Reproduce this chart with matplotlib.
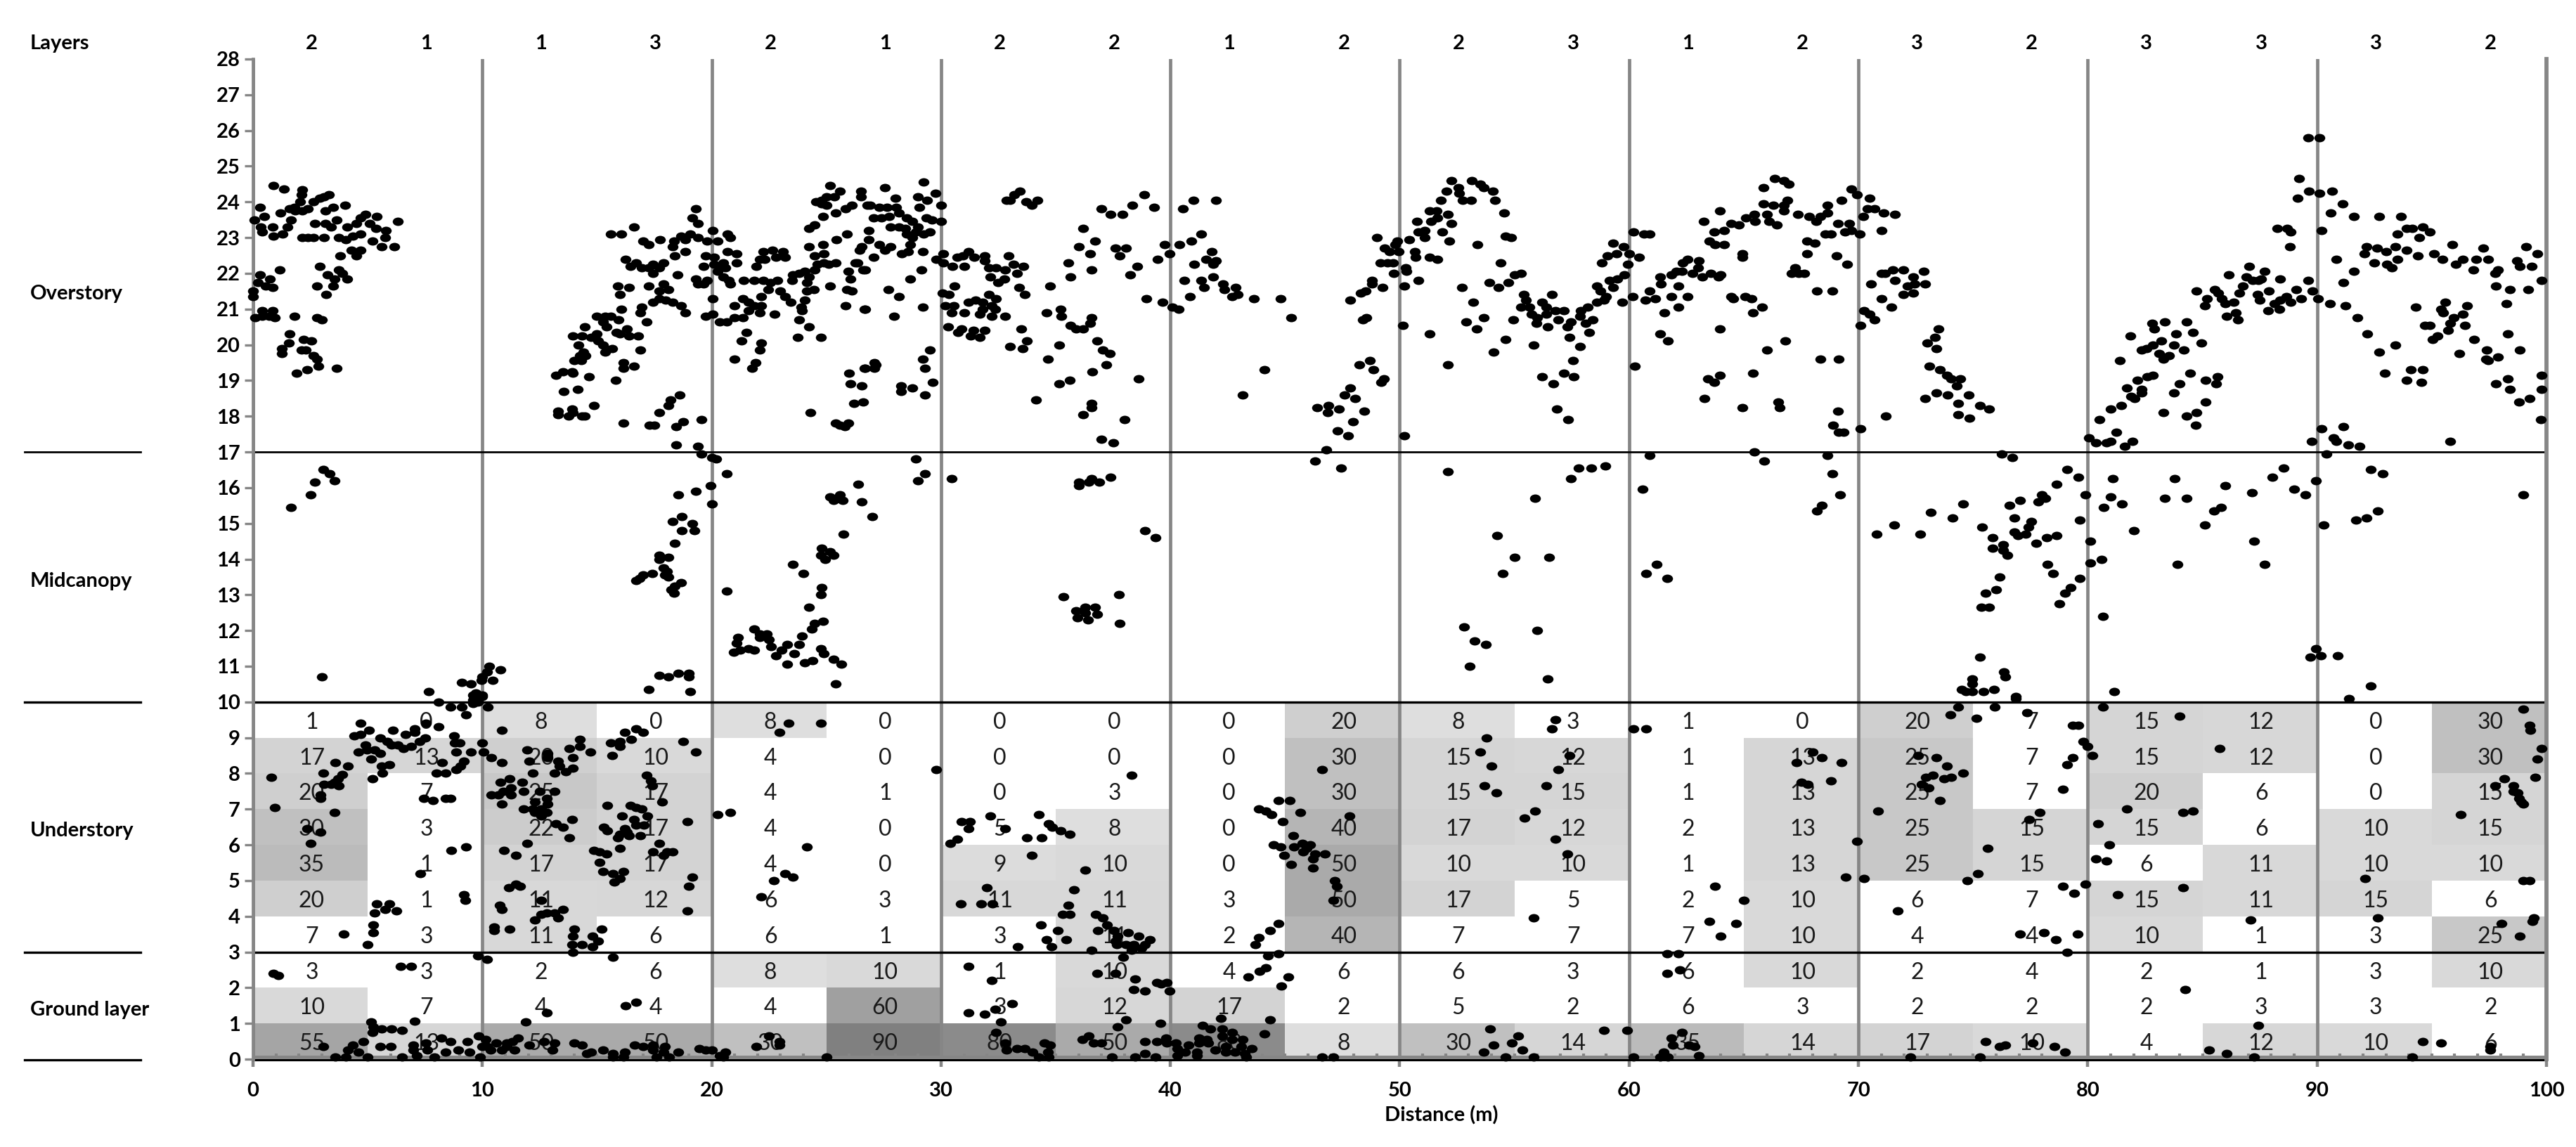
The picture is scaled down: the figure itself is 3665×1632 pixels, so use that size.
import matplotlib
matplotlib.use('Agg')
import matplotlib.pyplot as plt
from matplotlib.lines import Line2D
from matplotlib.path import Path
from matplotlib.transforms import Affine2D
import numpy as np

plt.rcParams['font.family'] = ['Lato', 'DejaVu Sans']

layers = [2, 1, 1, 3, 2, 1, 2, 2, 1, 2, 2, 3, 1, 2, 3, 2, 3, 3, 3, 2]

# percent cover per 5 m column, top row is the 9-10 m band
cover = [
    [1, 0, 8, 0, 8, 0, 0, 0, 0, 20, 8, 3, 1, 0, 20, 7, 15, 12, 0, 30],
    [17, 13, 20, 10, 4, 0, 0, 0, 0, 30, 15, 12, 1, 13, 25, 7, 15, 12, 0, 30],
    [20, 7, 25, 17, 4, 1, 0, 3, 0, 30, 15, 15, 1, 13, 25, 7, 20, 6, 0, 15],
    [30, 3, 22, 17, 4, 0, 5, 8, 0, 40, 17, 12, 2, 13, 25, 15, 15, 6, 10, 15],
    [35, 1, 17, 17, 4, 0, 9, 10, 0, 50, 10, 10, 1, 13, 25, 15, 6, 11, 10, 10],
    [20, 1, 11, 12, 6, 3, 11, 11, 3, 50, 17, 5, 2, 10, 6, 7, 15, 11, 15, 6],
    [7, 3, 11, 6, 6, 1, 3, 11, 2, 40, 7, 7, 7, 10, 4, 4, 10, 1, 3, 25],
    [3, 3, 2, 6, 8, 10, 1, 10, 4, 6, 6, 3, 6, 10, 2, 4, 2, 1, 3, 10],
    [10, 7, 4, 4, 4, 60, 3, 12, 17, 2, 5, 2, 6, 3, 2, 2, 2, 3, 3, 2],
    [55, 13, 50, 50, 30, 90, 80, 50, 80, 8, 30, 14, 35, 14, 17, 10, 4, 12, 10, 6],
]

stratum_names = ['Overstory', 'Midcanopy', 'Understory', 'Ground layer']

# canopy hits as (distance m, height m), one list per 10 m
hits_00 = [(.9,24.46),(1.35,24.35),(2.15,24.34),(2.1,24.2),(3.3,24.2),(3.1,24.15),(2.9,24.1),(.3,23.85),(4,23.9),(3.5,23.85),
    (2.65,24),(2.05,24),(1.8,23.85),(1.6,23.8),(2.4,23.8),(1.85,23.75),(2.15,23.75),(1.2,23.7),(.5,23.6),(3.15,23.75),(5.4,23.6),
    (4.9,23.65),(4.7,23.55),(3.65,23.5),(.05,23.5),(6.3,23.45),(2.7,23.4),(3.15,23.4),(3.4,23.3),(1.65,23.5),(1.5,23.3),(.35,23.3),
    (.85,23.3),(5.1,23.4),(4.5,23.4),(4.1,23.3),(5.35,23.25),(5.8,23.2),(.4,23.15),(1.3,23.1),(.9,23.05),(2.15,23),(2.4,23),(2.65,23),
    (3.1,23),(3.75,23),(4.05,22.95),(4.35,23.05),(4.7,23.1),(5.2,22.9),(5.75,23),(5.6,22.75),(6.15,22.75),(4.7,22.65),(4.3,22.65),
    (4.5,22.5),(3.8,22.5),(2.9,22.2),(1.15,22.1),(3.75,22.1),(3.25,21.95),(3.9,22),(4.1,21.85),(.3,21.95),(.75,21.85),(3.55,21.85),
    (.2,21.75),(.55,21.65),(.85,21.6),(2.8,21.65),(3.5,21.65),(0,21.5),(0,21.35),(3.2,21.4),(.4,20.95),(.85,20.95),(.1,20.75),(.4,20.8),
    (.7,20.8),(.95,20.75),(1.8,20.8),(2.8,20.75),(3,20.7),(1.6,20.3),(2.2,20.15),(2.55,20.1),(1.55,20.05),(1.25,19.9),(1.25,19.75),
    (2.1,19.85),(2.3,19.85),(2.65,19.7),(2.8,19.6),(3.65,19.35),(2.85,19.4),(2.35,19.3),(1.9,19.2),
    (1.65,15.45),(2.5,15.8),(2.7,16.15),(3.55,16.2),(3.35,16.4),(3.05,16.5),(3,10.7),
    (.8,7.9),(.95,7.05),(3.6,8.3),(4.15,8.2),(3.05,8),(3.9,7.97),(3.7,7.85),(3.55,7.75),(3.1,7.7),(3.4,7.7),(3.75,7.65),(2.95,7.4),
    (2.95,7.3),(3.55,6.9),(2.35,6.45),(2.95,6.35),(2.5,6.05),(4.7,9.4),(4.4,9.05),(4.7,9.1),(5.05,9.2),(5.55,9),(6.1,9.2),(5.85,8.9),
    (6.05,8.8),(6.65,9.1),(7.05,9.15),(7.05,9.25),(7.55,9.4),(8.1,9.3),(7.5,9),(7.25,8.9),(6.55,8.7),(6.9,8.75),(6.3,8.8),(4.6,8.6),
    (4.9,8.8),(4.95,8.65),(5.3,8.65),(5.55,8.55),(5.15,8.4),(5.95,8.25),(5.6,8.2),(5.65,8),(5.2,7.85),(8.25,8.3),(8,8),(8.4,8),
    (7.45,7.3),(7.85,7.25),(8.4,7.3),(8.6,7.3),(8.75,9.05),(8.8,8.85),(9,8.85),(8.85,8.6),(9.5,8.6),(9.2,8.35),(9.05,8.2),(8.85,8.1),
    (8.65,5.85),(9.3,5.95),(7.3,5.2),(9.2,4.6),(9.25,4.45),(5.4,4.35),(5.95,4.35),(5.75,4.2),(6.25,4.15),(5.3,4.1),(5.25,3.75),(5.25,3.55),
    (3.95,3.5),(5,3.2),(.9,2.4),(1.1,2.35),(6.45,2.6),(6.9,2.6),(9.8,2.9),(7.05,1.07),(5.15,1.05),(5.25,.9),(5.2,.75),(5.6,.85),(6.05,.85),
    (6.5,.8),(4.8,.5),(4.35,.4),(4.15,.25),(3.05,.35),(4.6,.2),(3.6,.05),(4.05,.05),(5,.05),(5.55,.35),(6,.35),(6.5,.05),(7,.4),(7,.25),
    (7.15,.1),(7.55,.45),(7.6,.25),(7.9,.05),(8.2,.6),(8.6,.5),(8.4,.2),(8.95,.25),(9.35,.5),(9.45,.2),(9.9,.05),(9.85,.65),
    (7.65,10.3),(8.1,10),(8.6,9.85),(9.1,9.85),(9.6,9.95),(9.3,9.65),(9.6,10.2),(9.6,10.05),(10,10.15),(9.1,10.55),(9.5,10.5),(9.7,10.25),
    (9.95,10.6),(9.8,10)]

hits_10 = [(10,10.7),(10.3,11),(10.8,10.9),(10.45,10.6),(10,10.2),(10.2,10.85),(10.25,9.85),
    (15.6,23.1),(16.05,23.1),(16.6,23.3),(19.3,23.8),(19.15,23.55),(19.4,23.4),(17,22.9),(17.25,22.8),(17.75,22.95),(18.35,22.9),(18.65,23.05),
    (19.05,23.1),(18.3,22.75),(18.85,22.95),(19.4,23),(19.8,22.9),(20.05,23.2),(18.4,22.5),(18.85,22.6),(16.25,22.4),(16.45,22.2),(16.7,22.3),
    (16.95,22.15),(17.45,22.25),(17.9,22.3),(17.25,22.15),(17.7,22.15),(17.45,22),(18.5,21.95),(19.65,22.2),(19.75,22.5),(19.3,21.85),(19.8,21.8),
    (19.4,21.7),(19.65,21.7),(15.9,21.65),(16.4,21.6),(16,21.4),(17.25,21.65),(17.9,21.7),(18.1,21.55),(17.7,21.5),(17.7,21.3),(18,21.25),(17.45,21.2),
    (16.95,21.05),(16.9,20.9),(16.05,21),(18.3,21.2),(18.65,21.1),(18.85,20.9),(20.05,21.3),(19.75,20.8),(20.05,20.85),(15,20.8),(15.35,20.8),(15.6,20.8),
    (15.95,20.7),(15.25,20.65),(15.4,20.5),(14.45,20.5),(17.15,20.65),(16.3,20.45),(15.85,20.35),(16,20.3),(16.4,20.25),(15,20.3),(13.95,20.25),(14.35,20.25),
    (16.8,20.25),(14.75,20.2),(15.05,20.1),(14.2,20),(15.25,20),(15.65,19.9),(15.35,19.8),(16.9,19.85),(14.4,19.8),(14.25,19.7),(14.5,19.7),(14,19.55),
    (14.3,19.55),(16.15,19.5),(16.15,19.35),(16.6,19.4),(13.2,19.15),(13.5,19.25),(13.9,19.25),(13.95,19.2),(14.65,19.1),(15.8,19),(13.55,18.7),(14.15,18.75),
    (14.85,18.3),(13.3,18.15),(13.3,18.05),(13.75,18),(13.9,18.2),(13.95,18.1),(14.35,18),(14.45,18),(16.15,17.8),(17.3,17.75),(17.5,17.75),(17.7,18.1),
    (18.1,18.3),(18.2,18.45),(18.6,18.6),(18.45,17.7),(18.75,17.85),(19.55,17.9),(18.45,17.2),(19.4,17.15),(19.55,16.95),(20,16.85),(20.2,16.8),(20.65,16.4),
    (19.95,16.05),(20,15.55),(18.55,15.8),(19.3,15.9),(18.7,15.2),(18.3,15.05),(19.15,15),(19.25,14.8),(18.7,14.8),(18.4,14.45),(17.7,14.1),(17.7,14),(18.1,14.05),
    (17.9,13.75),(18.05,13.65),(17.95,13.55),(18.1,13.5),(17.4,13.6),(17,13.55),(16.85,13.45),(16.7,13.4),(18.65,13.35),(18.4,13.25),(18.25,13.15),(18.35,13.05),
    (17.7,10.75),(18.1,10.7),(18.55,10.8),(19,10.8),(19,10.7),(17.25,10.35),(19.05,10.3),
    (10.85,9.2),(10,8.85),(10.05,8.6),(10.4,8.45),(10.85,8.3),(11.95,8.65),(12.05,8.35),(12.85,8.55),(12.85,8.45),(12.2,8),(11.2,7.85),(10.8,7.75),(11.75,7.75),
    (11.25,7.6),(10.9,7.5),(11.8,7.5),(10.4,7.4),(10.7,7.4),(11.25,7.4),(12.5,7.5),(13.15,7.5),(12.8,7.3),(10.85,7.15),(12.3,7.2),(12.85,7.15),(11.8,7),(12.2,7),
    (12.55,7),(12.3,6.9),(12.55,6.8),(12.8,6.9),(13.9,6.7),(13.2,6.6),(13.5,6.5),(13.8,6.2),(11.95,6.05),(10.95,5.85),(11.45,5.7),(14.25,8.95),(14.25,8.75),(14.7,8.6),
    (13.8,8.7),(13.95,8.45),(13.3,8.35),(13.35,8.2),(13.65,8.05),(13.95,8.15),(13.15,8),(15.65,8.5),(15.6,8.85),(16,8.9),(16,8.75),(16.2,9.15),(16.5,8.95),(16.7,9.25),
    (17,9.15),(18.75,8.9),(19.3,8.6),(17.15,7.95),(17.35,7.8),(17.4,7.65),(17.85,7.2),(15.45,7.1),(16.45,7.1),(16.7,7.05),(16.95,7),(17.2,6.8),(16.1,6.8),(16.6,6.7),
    (16.7,6.55),(17.05,6.55),(15.3,6.5),(15.45,6.4),(16.2,6.45),(16.3,6.35),(15.9,6.2),(16,6.3),(16.4,6.25),(16.9,6.25),(18.95,6.65),(17.7,6.05),(14.85,5.85),(15.1,5.8),
    (15.4,5.75),(16,5.9),(17.45,5.8),(18.05,5.8),(18.3,5.8),(17.9,5.7),(15.1,5.5),(15.25,5.25),(15.7,5.2),(16.15,5.25),(16,5.05),(15.75,4.95),(19.15,5.1),(19,4.85),
    (18.95,4.15),(11.45,4.9),(11.15,4.8),(11.65,4.85),(12.55,4.45),(10.75,4.3),(10.85,4.2),(13.5,4.2),(12.8,4.1),(12.55,4.05),(13.15,4.1),(12.3,3.9),(13.3,3.95),(10.5,3.7),
    (11.2,3.65),(10.5,3.6),(14,3.65),(13.95,3.45),(14.8,3.45),(15.2,3.65),(15.05,3.3),(13.9,3.2),(14.35,3.2),(14.8,3.15),(13.95,3),(10.2,2.8),(15.7,2.85),(16.7,1.6),
    (16.25,1.5),(12.8,1.3),(11.9,1.05),(11.55,.6),(11.3,.5),(11.05,.45),(10.15,.55),(10.6,.45),(10.2,.35),(10.85,.25),(10,.35),(10.35,.25),(11.05,.35),(11.4,.25),(12.05,.4),
    (12.7,.5),(13.15,.45),(13.05,.25),(14,.45),(14.35,.4),(14.55,.15),(14.75,.2),(15.25,.25),(15.7,.05),(15.7,.15),(16.2,.2),(16.15,.05),(16.65,.4),(17,.35),(17.45,.4),
    (17.45,.25),(17.6,.05),(17.95,.35),(17.9,.2),(18.15,.05),(18.55,.2),(19.45,.3),(20,.25),(19.75,.25)]

hits_20 = [(20.25,22.9),(20.7,23.1),(20.8,23),(20.1,22.45),(20.5,22.3),(20.7,22.6),(21.1,22.55),(21.1,22.3),(20.1,22.25),(20.35,22.15),(20.6,22.15),(20.25,22.05),(20.5,21.9),
    (20.75,21.8),(20.8,21.7),(21.4,21.8),(21.85,21.8),(22.25,21.8),(22.55,21.75),(22.85,21.8),(21.95,22.2),(22.1,22.4),(22.25,22.6),(22.65,22.65),(22.3,22.4),(22.8,22.45),
    (23.1,22.6),(23.2,22.45),(21,21.1),(21.35,21.3),(21.6,21.2),(21.85,21.1),(22.15,21.1),(21,20.75),(21.35,20.75),(21.6,20.95),(22.1,20.9),(22.75,20.85),(22.15,21.35),
    (22.45,21.55),(23,21.5),(23.2,21.35),(23.45,21.2),(23.9,21.05),(24.05,21.25),(23.8,20.7),(24.25,20.5),(23.75,20.2),(24.75,20.2),(20.35,20.65),(20.65,20.65),(21.5,20.35),
    (21.3,20.1),(22.15,20.05),(22.1,19.85),(21,19.6),(21.9,19.5),(21.75,19.35),(23.5,21.8),(23.8,22),(24.05,22.05),(23.55,21.95),(24.25,21.9),(24.15,21.75),(24.15,21.5),
    (24.45,21.55),(23.95,20.95),(24.5,22.1),(24.6,22.25),(24.25,22.75),(24.5,22.5),(24.9,22.55),(24.85,22.8),(24.9,22.3),(25.1,22.25),(25.4,22.3),(24.25,23.25),(24.5,23.35),
    (24.85,23.6),(25.4,23.7),(25.45,22.95),(25.9,23.1),(24.55,24),(24.8,24.05),(25.15,24.45),(25,24.15),(25.35,24.15),(25.6,24.3),(24.8,23.95),(25,23.9),(25.85,23.8),(26.1,23.9),
    (26.5,24.3),(26.5,24.15),(26.9,23.9),(25.95,22.05),(26.05,21.85),(26.35,22.3),(26.7,22.1),(25.15,21.65),(25.9,21.55),(26.1,21.5),(25.85,21.1),(26.7,21),(26,19.2),(26.05,18.9),
    (26.55,18.85),(26.7,19.35),(27.15,19.45),(26.2,18.35),(26.6,18.4),(24.3,18.1),(25.4,17.8),(25.6,17.75),(25.95,17.8),(25.8,17.7),
    (26.4,16.1),(26.55,15.6),(27,15.2),(25.15,15.75),(25.3,15.65),(25.6,15.8),(25.7,15.65),(25.75,14.7),(20.65,13.1),(23.55,13.85),(24,13.6),(24.8,14.3),(25.15,14.2),(24.75,14.1),
    (24.95,14),(25.3,14.1),(24.8,13.2),(24.75,13),(24.25,12.65),(24.5,12.2),(24.85,12.25),(24.35,12.05),(23.95,11.85),(21.85,12.05),(22.1,11.9),(22.4,11.9),(22.5,11.75),(22.1,11.8),
    (22.6,11.55),(21.15,11.8),(21.1,11.65),(20.95,11.4),(21.25,11.45),(21.6,11.5),(21.85,11.45),(22.8,11.3),(23.05,11.45),(23.3,11.6),(23.8,11.6),(23.6,11.35),(23.3,11.05),(24.05,11.1),
    (24.4,11.15),(24.75,11.5),(24.9,11.35),(25.3,11.2),(25.65,11.05),(25.4,10.5),(28.9,16.8),(29.3,16.4),(29,16.2),
    (27.55,24.4),(29.25,24.55),(29.75,24.25),(29.4,24.05),(29,24.15),(28,24.1),(29.05,23.85),(30,23.9),(26.8,23.9),(27.3,23.85),(27.65,23.85),(28.05,23.85),(28.15,23.7),(27.05,23.55),
    (27.4,23.55),(27.75,23.6),(28.5,23.55),(28.75,23.45),(29.35,23.55),(29.6,23.5),(30,23.45),(27.8,23.3),(28.15,23.3),(28.45,23.25),(29,23.3),(28.9,23.15),(28.5,23.1),(29.25,23.1),
    (29.5,23.15),(28.75,23),(26.85,23.2),(26.85,22.95),(28.65,22.8),(26.55,22.75),(26.45,22.65),(27.3,22.8),(27.8,22.75),(27.55,22.65),(28.3,22.55),(28.55,22.6),(29.2,22.6),(27.05,22.45),
    (26.25,22.3),(26.6,22.1),(29.15,22.1),(28.65,21.85),(27.7,21.55),(28.15,21.35),(26.65,21),(29.2,21.05),(27.95,20.8),(29.5,19.85),(29.2,19.6),(29.3,19.35),(26.65,19.35),(27.1,19.5),
    (27.1,19.35),(28.25,18.85),(28.25,18.7),(28.75,18.8),(29.65,18.95),(29.3,18.6),
    (29.8,8.1),(20.25,6.85),(20.8,6.9),(24.15,5.95),(23.2,5.2),(23.55,5.1),(22.7,5),(22.15,4.55),(23.35,9.4),(24.75,9.4),(22.95,9.15),(25,.05),(20.5,.05),(20.6,.2),(20.35,.1),(21.95,.35),
    (22.5,.65),(22.95,.5),(22.95,.4),(29.8,22.4)]

hits_30 = [(32.85,24.05),(33,24.05),(33.2,24.2),(33.45,24.3),(33.7,24),(33.95,23.9),(34.2,24.05),(30.1,22.55),(30.1,22.3),(30.5,22.2),(30.7,22.45),(30.95,22.5),(31,22.2),(31.2,22.6),
    (31.45,22.45),(31.9,22.5),(31.9,22.35),(32.95,22.5),(32.1,22.15),(32.4,22.15),(32.8,22.1),(33.15,22.25),(33.6,22.2),(33.3,22),(32.15,21.9),(32.5,21.75),(32.75,21.85),(30.6,21.65),(33.4,21.6),
    (33.65,21.4),(30.05,21.45),(30.35,21.4),(30.2,21.1),(30.55,21.1),(30.45,20.9),(31,20.9),(31.2,21.2),(31.5,21.25),(31.8,21.2),(32.1,21.4),(32.4,21.3),(31.8,21),(32.2,21.1),(32.35,21),(32.2,20.8),
    (31.7,20.85),(32.8,20.8),(30.3,20.5),(30.9,20.45),(30.75,20.35),(31.4,20.4),(31.3,20.25),(31.7,20.2),(31.9,20.4),(33.5,20.45),(33.75,20.1),(33,19.95),(33.55,19.9),(34.75,21.65),(35.2,21),(35.25,20.8),
    (34.6,20.9),(35.15,20),(34.65,19.6),(35.15,18.9),(35.6,19),(34.15,18.45),(35.65,20.55),(35.9,20.45),(36.2,20.45),(36.5,20.6),(36.55,20.75),(35.65,21.9),(35.55,22.3),(36.5,22.55),(36.55,22.1),(36,22.75),
    (36.7,22.9),(36.2,23.25),(37,23.8),(37.4,23.65),(37.9,23.65),(38.35,23.9),(38.85,24.2),(39.3,23.85),(37.6,22.7),(38.05,22.7),(37.8,22.5),(38.55,22.2),(38.25,21.95),(39.45,22.4),(39.95,22.55),(39.75,22.8),
    (38.95,21.3),(39.65,21.2),(36.8,20.1),(37.05,19.85),(37.35,19.75),(37.2,19.45),(36.6,19.25),(38.6,19.05),(36.55,18.35),(36.55,18.25),(36.2,18.05),(38,17.9),(37,17.35),(37.5,17.25),
    (30.45,16.25),(36,16.15),(36,16.05),(36.45,16.15),(36.55,16.25),(36.9,16.15),(37.4,16.3),(38.9,14.8),(39.35,14.6),(35.35,12.95),(35.9,12.55),(36.3,12.65),(36.7,12.65),(35.95,12.35),(36.4,12.3),(36.3,12.5),
    (36.8,12.45),(37.75,13),(37.8,12.2),
    (30.9,6.65),(31.25,6.65),(31.2,6.45),(32.15,6.8),(32.8,6.45),(30.7,6.15),(30.4,6.05),(34.25,6.85),(34.7,6.6),(34.85,6.5),(35.2,6.4),(35.6,6.3),(33.75,6.2),(34.4,6.2),(33.95,5.7),(36.3,5.3),(38.3,7.95),(32,4.8),
    (30.85,4.35),(31.75,4.35),(32.25,4.35),(35.8,4.75),(35.55,4.3),(35.3,4.05),(35.6,4.05),(34.35,3.75),(35.1,3.6),(34.6,3.35),(35.45,3.35),(33.35,3.15),(34.8,3.15),(36.55,3.05),(36.75,4.05),(37.05,3.95),(37.25,3.75),
    (36.85,3.6),(37.55,3.6),(37.7,3.45),(37.6,3.3),(37.65,3.2),(38.15,3.55),(38.6,3.45),(39.1,3.35),(38.05,3.2),(38.4,3.2),(38.9,3.2),(38.3,3.05),(38.75,3.1),(37.95,2.85),(31.2,2.6),(32.2,2.2),(36.8,2.4),(37.6,2.4),
    (38.45,2.25),(39.4,2.15),(39.85,2.15),(39.6,2.1),(38.4,1.95),(38.9,1.9),(39.95,1.9),(33.1,1.55),(32.35,1.4),(31.2,1.3),(31.9,1.25),(32.6,1.05),(38.05,1.1),(37.7,.9),(39.55,1),(32.4,.75),(32.8,.45),(32.85,.25),
    (33.3,.3),(33.65,.3),(34,.2),(34.25,.05),(34.5,.45),(34.75,.4),(34.65,.2),(34.7,.05),(36.15,.55),(36.45,.65),(36.65,.45),(37,.45),(37.45,.05),(38.45,.05),(38.9,.5),(38.9,.15),(39.35,.05),(39.4,.5),(39.8,.6),(39.85,.45)]

hits_40 = [(40.55,23.8),(41,24.05),(42,24.05),(41.35,23.1),(40.9,22.9),(40.4,22.8),(41.8,22.6),(41.55,22.4),(42,22.35),(41.85,22.25),(41.05,22.25),(40.6,21.8),(41.35,21.8),(41.85,21.9),(41.45,21.6),(40.85,21.35),
    (42.3,21.7),(42.35,21.55),(42.85,21.6),(42.7,21.35),(42.95,21.4),(43.65,21.3),(44.8,21.3),(45.25,20.75),(44.1,19.3),(43.15,18.6),(40.1,21.05),(40.35,21),
    (46.4,18.25),(46.9,18.3),(46.85,18.1),(47.35,18.2),(47.6,18.6),(47.85,18.8),(48.05,18.5),(48.45,18.15),(47.95,17.85),(47.3,17.6),(47.75,17.45),(46.8,17.05),(46.3,16.75),(47.45,16.55),(48.25,19.45),(48.7,19.55),
    (48.85,19.3),(49.3,19.05),(49.2,18.95),(48.4,20.7),(48.55,20.75),(47.85,21.25),(48.3,21.45),(48.5,21.5),(48.8,21.7),(48.8,21.8),(49.25,21.6),(49.15,22.3),(49.45,22.3),(49.7,22.3),(49.75,22),(49.35,22.7),(49.55,22.6),
    (49.8,22.8),(49,23),(49.9,22.9),(49.95,22.6),
    (44.7,7.25),(45.2,7.25),(43.85,7),(44.15,6.95),(44.4,6.85),(44.9,6.65),(45.65,6.9),(45.35,6.25),(44.5,6),(44.8,5.95),(44.95,5.7),(45.25,5.45),(45.4,5.95),(45.75,6.05),(46.1,6),(45.8,5.8),(45.95,5.9),(46.3,5.75),(46.75,5.75),
    (46.2,5.6),(46.2,5.35),(46.6,8.1),(47.8,6.8),(47.15,5),(47.25,4.85),(47.1,4.45),(44.7,3.8),(44.35,3.6),(43.85,3.4),(43.7,3.2),(44.7,2.95),(44.25,2.9),(44.15,2.55),(43.9,2.45),(43.4,2.3),(45.15,2.3),(44.85,2.05),
    (42.2,1.15),(44.35,1.1),(41.4,.95),(41.75,.85),(42.25,.85),(42.25,.65),(42.7,.75),(44.1,.7),(41.25,.6),(41.6,.55),(42.7,.55),(43.15,.55),(40.8,.4),(41.25,.45),(41.65,.45),(41.95,.25),(42.4,.35),(43.1,.35),(43.55,.3),
    (40.65,.2),(41.15,.2),(42.4,.2),(42.8,.2),(41.15,.1),(43.25,.15),(43.3,.05),(46.6,.05),(47.1,.05),(40.25,.45),(40.3,.3),(40.3,.1)]

hits_50 = [(52.25,24.6),(53.15,24.6),(53.5,24.5),(53.65,24.4),(54.05,24.3),(52.55,24.4),(52.6,24.25),(51.8,24.05),(52.05,24.3),(52.75,24.05),(53.1,24.05),(54.15,24.05),(54.55,23.7),(51.3,23.75),(51.6,23.75),(52.1,23.65),
    (51.35,23.45),(51.65,23.55),(50.75,23.45),(52.25,23.4),(51.1,23.2),(50.8,23.15),(51.85,23.15),(51.1,23),(52.15,22.9),(50.4,22.95),(54.6,23.05),(54.85,23),(53.4,22.8),(50.65,22.6),(50.7,22.45),(51.3,22.45),(51.65,22.4),
    (50.25,22.15),(50.3,22.05),(50.8,21.8),(50.2,21.65),(54.4,22.3),(55.3,22),(55,21.95),(54.75,21.75),(54.3,21.6),(53.9,21.75),(52.7,21.6),(53.2,21.2),(53.65,20.75),(52.9,20.65),(53.35,20.45),(54.95,20.7),(54.6,20.15),
    (54.1,19.8),(51.3,20.3),(50.15,20.55),(52.1,19.45),(50.2,17.45),(55.4,21.4),(55.5,21.25),(55.3,21.05),(55.65,21.05),(56.2,21.2),(56.4,21.05),(56.65,21.4),(55.75,20.85),(56,20.75),(55.95,20.6),(56.4,20.85),(56.8,20.95),
    (57.15,20.95),(56.9,20.7),(56.45,20.5),(55.85,20),(57.3,20.5),(57.45,20.65),(57.4,20.2),(57.85,19.95),(57.55,19.55),(57.15,19.2),(57.6,19.1),(56.2,19.1),(56.7,18.9),(56.85,18.2),(57.35,17.9),(57.9,20.95),(57.85,20.8),
    (58.2,21.05),(58.4,20.7),(58.1,20.6),(58.25,20.35),(58.6,21.65),(58.75,21.5),(59,21.35),(58.6,21.2),(58.9,21.25),(58.8,22.3),(59.05,22.5),(59.45,22.55),(59.3,22.85),(59.75,22.75),(60,22.55),(59.95,22.25),(59.15,21.8),
    (59.3,21.6),(59.5,21.85),(59.8,21.95),(59.7,21.2),
    (52.1,16.45),(57.45,16.25),(57.8,16.55),(58.35,16.55),(58.95,16.6),(55.9,15.7),(54.25,14.65),(55,14.05),(54.5,13.6),(56.5,14.05),(52.8,12.1),(53.25,11.7),(53.75,11.6),(53.05,11),(56,12),(56.45,10.65),
    (53.8,9),(53.5,8.6),(54,8.2),(53.7,7.65),(54.2,7.45),(56.8,9.5),(56.65,9.25),(57.4,8.5),(56.9,8.1),(56.4,7.65),(55.9,6.95),(55.45,6.75),(56.8,6.15),(57.3,5.75),(55.85,3.95),(53.95,.85),(55.15,.65),(54.9,.45),(54.1,.4),
    (53.65,.2),(54.6,.05),(55.35,.25),(55.85,.05),(58.9,.8),(59.9,.8)]

hits_60 = [(60.15,21.35),(60.2,23.15),(60.65,23.1),(60.9,23.1),(60.45,22.45),(61.35,21.9),(61.85,21.95),(62.05,22.05),(62.35,22.3),(62.55,22.4),(62.3,22.05),(63.05,22.35),(63,22.15),(62.75,22),(63.2,21.9),(63.55,22),(63.9,21.9),
    (61.4,21.7),(60.9,21.5),(61.15,21.3),(60.7,21.25),(61.85,21.35),(62.15,21.65),(62.55,21.35),(61.55,20.9),(62.15,21.05),(61.35,20.3),(61.7,20.1),(60.25,19.4),(63.25,23.45),(63.95,23.75),(63.7,23.15),(63.5,22.9),(63.75,22.8),
    (63.95,20.45),(63.45,19.05),(63.7,18.95),(63.95,19.15),(63.3,18.5),(60.9,16.9),(60.6,15.95),(60.75,13.6),(61.2,13.85),(61.65,13.45),
    (64.15,23.2),(64.45,23.4),(64.8,23.35),(65.1,23.55),(65.45,23.65),(65.5,23.45),(66,23.65),(66.1,23.45),(66.45,23.35),(66.35,24.65),(65.85,24.4),(66.75,24.6),(66.95,24.5),(65.85,23.95),(66.3,23.9),(66.75,23.9),(66.75,23.75),
    (66.9,24.05),(67.35,23.65),(67.85,23.6),(68.15,23.45),(68.35,23.6),(68.65,23.9),(68.65,23.7),(69.25,24.05),(69.7,24.35),(69.95,24.2),(69.1,23.4),(69.6,23.4),(69.4,23.15),(69.7,23.2),(68.55,23.1),(68.8,23.1),(67.75,22.9),(68.1,22.85),
    (67.75,22.55),(67.25,22.15),(67.1,22),(67.65,22),(67.4,22),(69.05,22.5),(69.5,22.25),(68.2,21.5),(68.85,21.5),(64.15,22.8),(64.95,22.55),(64.95,22.45),(64,21.95),(64.45,21.35),(64.55,21.3),(65.05,21.35),(65.35,21.3),(65.8,21.05),
    (65.4,20.9),(66,19.85),(66.8,20.1),(68.35,19.6),(69.15,19.6),(65.4,19.2),(64.95,18.25),(66.5,18.4),(66.55,18.25),(69.1,18.15),(68.9,17.75),(69.15,17.55),(69.35,17.55),(65.45,17),(65.9,16.75),(68.65,16.9),(68.85,16.4),(69.2,15.8),
    (68.4,15.5),(68.2,15.35),
    (68,8.6),(68.4,8.45),(69.25,8.3),(67.3,8.3),(67.5,7.75),(67.8,7.7),(68.8,7.8),(69.95,6.1),(69.45,5.1),(63.75,4.85),(65,4.45),(63.5,3.85),(64.65,3.8),(64,3.45),(61.65,2.95),(62.15,2.95),(62.2,2.5),(61.65,2.4),(62.3,.75),(61.85,.6),
    (61.9,.4),(62.6,.4),(62.85,.35),(63.05,.1),(61.5,.2),(61.35,.05),(61.7,.05),(60.2,.05),(60.2,9.25),(60.75,9.25)]

hits_70 = [(70.5,24.1),(70.2,23.6),(70.4,23.8),(70.7,23.8),(71.1,23.7),(71.6,23.65),(71,23.2),(70.05,23.1),(70.1,17.65),(71.2,18),
    (70.25,20.95),(70.1,20.55),(70.5,20.85),(70.7,20.7),(70.55,21.7),(71,22),(71.15,22),(71.5,22.1),(71.95,22.1),(71.6,21.8),(72.4,21.9),(72.85,22.05),(72.15,21.65),(72.45,21.7),(72.9,21.7),(71.95,21.4),(72.4,21.45),(71,21.3),(71.45,21.05),
    (73.5,20.45),(73.35,20.2),(73,20.05),(73.4,19.9),(73.1,19.4),(73.55,19.3),(73.85,19.15),(74.05,19.05),(74.45,19.05),(74.3,18.85),(74.8,18.6),(72.9,18.5),(73.4,18.65),(73.9,18.6),(74.35,18.35),(74.35,18.05),(74.85,17.95),(75.3,18.3),(75.7,18.2),
    (76.25,16.95),(76.7,16.85),(79.1,16.5),(78.65,16.1),(79.6,16.3),(79.9,15.8),(78,15.8),(78.15,15.7),(77.85,15.6),(77.05,15.65),(76.6,15.5),(74.55,15.55),(73.15,15.3),(74.1,15.15),(71.55,14.95),(70.8,14.7),(72.7,14.7),(75.4,14.9),(76.8,15.15),
    (77.55,15.05),(77.4,14.9),(79.65,15.1),(76.8,14.75),(76.95,14.65),(77.3,14.7),(77.75,14.45),(78.2,14.6),(78.65,14.65),(75.85,14.6),(76.3,14.4),(75.85,14.3),(76.3,14.25),(76.5,14.1),(78.25,13.85),(78.5,13.6),(79.65,13.45),(76.15,13.5),(76,13.15),
    (75.55,13.05),(75.35,12.65),(75.7,12.65),(79.25,13.2),(79,13.05),(78.75,12.75),(75.3,11.25),(74.95,10.65),(74.95,10.5),(76.35,10.85),(76.4,10.7),(74.5,10.35),(74.7,10.3),(74.95,10.3),(75.45,10.3),(75.9,10.35),(76.85,10.15),
    (74.35,9.85),(74,9.65),(75.95,9.85),(75.15,9.55),(77.35,9.7),(76.85,10.1),(79.35,9.35),(79.6,9.35),(79.8,8.9),(72.6,8.5),(73.4,8.45),(73.85,8.2),(74.55,8),(73.25,7.95),(72.95,7.9),(73.75,7.85),(74.05,7.9),(72.75,7.7),(73.05,7.6),(73.55,7.25),
    (70.85,6.95),(77.9,6.9),(77.45,6.7),(75.65,5.9),(75.2,5.2),(74.75,5),(70.25,5.05),(71.7,4.15),(78.9,4.85),(79.4,4.65),(79.9,4.9),(77.05,3.5),(78.1,3.55),(78.6,3.35),(79.55,3.5),(79.1,3),(79.35,8.45),(79.1,8.25),(78.9,7.55),
    (75.55,.5),(76.4,.4),(76.15,.35),(77.6,.45),(78.55,.35),(79,.2),(75.3,.05),(72.25,.05)]

hits_80 = [(80.05,17.4),(80.35,17.25),(80.8,17.25),(81,17.3),(81.25,17.55),(81.6,17.15),(81.95,17.3),(80.5,17.9),(81,18.2),(81.45,18.3),(81.9,18.55),(82.05,18.5),(81.7,18.8),(82.15,19),(82.35,18.75),(82.35,18.65),(82.6,19.1),(82.85,19.15),(83.3,18.1),
    (81.4,19.55),(81.85,20.25),(82.8,20.6),(82.9,20.45),(83.35,20.65),(82.35,19.85),(82.55,19.9),(82.85,20),(83.2,20.1),(83.1,19.75),(83.3,19.6),(83.55,19.7),(83.75,20),(83.85,20.3),(84.2,19.85),(84.3,20.65),(84.6,20.35),(84.95,20.05),(83.75,18.65),
    (84,18.9),(84.45,19.2),(85.15,19),(85.65,19.1),(85.6,18.9),(85.15,18.4),(84.3,18),(84.75,18.1),(84.7,17.75),(84.75,21.5),(85.2,21.3),(85.1,21.1),(85.55,21.55),(85.7,21.45),(85.85,21.3),(86,21.15),(86.35,21.2),(86.05,20.8),(86.45,20.9),(86.55,20.7),
    (86.15,21.95),(86.6,21.45),(86.75,21.65),(86.9,21.9),(87.05,22.2),(87.2,21.8),(87.45,21.8),(87.7,22.05),(87.55,21.85),(87.4,21.4),(87.5,21.25),(87.9,21.5),(87.85,20.95),(88.15,21.15),(88.35,21),(88.4,21.25),(88.65,21.35),(88.85,21.2),(88.4,21.85),
    (89.1,21.55),(89.6,21.8),(89.3,21.3),(89.8,21.5),(90.05,21.3),(88.25,23.25),(88.7,23.25),(88.85,23.15),(88.8,22.75),(89.2,24.65),(89.6,25.8),(90.1,25.8),(89.15,24.1),(89.65,24.3),
    (81.1,16.25),(81,15.75),(80.7,15.45),(81.5,15.55),(82,14.8),(83.8,16.25),(83.35,15.7),(84.3,15.7),(83.9,13.85),(86,16.05),(87.15,15.85),(88.05,16.3),(88.55,16.55),(89,15.95),(89.5,15.8),(89.95,16.2),(85.8,15.45),(85.5,15.35),(85.1,14.95),(87.25,14.5),
    (87.7,13.85),(80.1,14.5),(80.1,13.9),(80.6,14),(80.65,12.4),(81.15,10.3),(80,8.75),(80.2,8.5),
    (80.65,9.85),(84,9.6),(85.75,8.7),(81.7,7),(84.15,6.9),(84.6,6.95),(80.45,6.6),(80.95,6),(80.35,5.6),(80.8,5.55),(81.3,4.6),(84.15,4.8),(87.1,3.9),(84.25,1.95),(87.45,.95),(85.3,.25),(86.05,.15),(87.25,.05)]

hits_90 = [(90.1,24.25),(90.65,24.3),(91.1,23.95),(90.6,23.7),(91.6,23.6),(90.2,23.2),(92.7,23.6),(93.65,23.6),(93.5,23.1),(93.9,23.25),(94.15,23.25),(94.6,23.3),(94.9,23.15),(94.45,23),(92.15,22.75),(92.05,22.55),(92.6,22.7),(93,22.6),(93.4,22.75),(93.9,22.65),
    (94.4,22.5),(92.5,22.3),(93.05,22.25),(93.25,22.15),(93.5,22.4),(90.85,22.4),(91.6,22.05),(91.15,21.75),(90.55,21.15),(91.25,21.1),(91.75,20.75),(92.2,20.3),(92.7,19.8),(93.4,20),(92.95,19.2),(93.9,19),(94.1,19.3),(94.6,19.3),(94.55,18.95),(95.1,22.55),
    (95.45,22.4),(95.9,22.8),(96.05,22.25),(96.35,22.4),(96.8,22.1),(96.95,22.4),(97.25,22.7),(97.45,22.4),(97.75,22),(97.9,22.1),(97.8,21.65),(98.4,21.55),(98.25,21.15),(98.7,22.35),(98.85,22.2),(99.35,22.2),(99.1,22.75),(99.6,22.55),(99.2,21.55),(99.8,21.8),
    (94.3,21.05),(95.6,21.2),(95.4,21),(95.5,20.9),(96.55,21.1),(96.35,20.85),(95.95,20.75),(95.8,20.6),(96.45,20.55),(94.7,20.55),(94.9,20.55),(95.7,20.4),(95.25,20.25),(95.05,20.15),(96.85,20.15),(97.4,19.85),(98.3,20.3),(98.85,19.85),(96.2,19.75),(97.9,19.65),
    (97.35,19.6),(97.45,19.55),(98.3,19.05),(98.4,18.75),(97.8,18.9),(98.8,18.4),(99.25,18.5),(99.8,19.15),(99.8,18.75),(99.75,17.9),(95.8,17.3),(90.2,17.65),(91.15,17.7),(89.75,17.3),(90.7,17.4),(90.85,17.3),(91.35,17.2),(91.85,17.15),(90.4,16.95),
    (92.35,16.5),(92.85,16.4),(90.3,14.95),(91.7,15.1),(92.15,15.15),(92.65,15.35),(99,15.8),(89.95,11.5),(89.7,11.25),(90.15,11.3),(90.9,11.3),(92.35,10.45),(91.4,10.1),
    (92.1,5.05),(92.65,3.95),(99,9.8),(99.25,9.35),(99.3,9.2),(99.8,8.7),(99.6,8.4),(99.5,7.9),(97.75,7.65),(98.15,7.85),(98.55,7.65),(98.55,7.5),(98.75,7.45),(98.8,7.3),(98.9,7.2),(99,7.15),(96.25,6.85),(99,5),(99.25,5),(99.45,3.95),(99.4,3.85),(98.05,3.8),(98.85,3.45),
    (94.6,.5),(95.4,.45),(97.55,.35),(97.55,.25),(94.15,.05)]

hits = hits_00 + hits_10 + hits_20 + hits_30 + hits_40 + hits_50 + hits_60 + hits_70 + hits_80 + hits_90
dist = [p[0] for p in hits]
height = [p[1] for p in hits]


def cell_grey(v):
    # excel style shading, nothing under 8 %
    if v < 8:
        return '#ffffff'
    g = np.interp(v, [8, 10, 17, 20, 25, 30, 40, 50, 60, 90], [222, 217, 211, 207, 200, 192, 181, 170, 160, 128])
    return str(g / 255)


W, H = 3666, 1632
fig = plt.figure(figsize=(W / 100, H / 100), dpi=100)
ax = fig.add_axes([360 / W, 1 - 1507 / H, 3263 / W, 1423 / H])

n_rows = len(cover)
for r in range(n_rows):
    y0 = 9 - r
    for c in range(len(layers)):
        v = cover[r][c]
        ax.bar(c * 5 + 2.5, 1, width=5, bottom=y0, color=cell_grey(v), linewidth=0, zorder=1)
        ax.text(c * 5 + 2.56, y0 + 0.43, str(v), ha='center', va='center', fontsize=23, color='#1a1a1a', zorder=4)

for c, n in enumerate(layers):
    fig.text((360 + (c * 5 + 2.56) * 32.63) / W, 1 - 62 / H, str(n), ha='center', va='center', fontsize=21, fontweight='bold')

# stratum limits, running on into the label column
for level, lw in [(17, 2.0), (10, 2.4), (3, 2.4)]:
    ax.axhline(level, color='black', lw=lw, zorder=3)
    y = 1 - (1507 - level * 50.82) / H
    fig.add_artist(Line2D([35 / W, 200 / W], [y, y], color='black', lw=lw))

# bottom axis: black line sits just under the grey one
ax.axhline(-0.02, color='black', lw=2.2, zorder=3, clip_on=False)
ax.axhline(0.06, color='#868686', lw=3.6, zorder=3)
base_y = 1 - 1508 / H
fig.add_artist(Line2D([35 / W, 200 / W], [base_y, base_y], color='black', lw=2.4))

# ellipse marker, the original picture was stretched sideways
dot = Path.unit_circle().transformed(Affine2D().scale(1.3, 1.0))
ax.scatter(dist, height, marker=dot, s=125, color='black', linewidths=0, zorder=5, clip_on=False)

ax.set_xlim(0, 100)
ax.set_ylim(0, 28)
ax.set_xticks(np.arange(0, 101, 10))
ax.set_xticks(np.arange(0, 101, 1), minor=True)
ax.set_yticks(np.arange(0, 29, 1))
ax.xaxis.grid(True, which='major', color='#868686', lw=3.4)
ax.set_axisbelow(False)
for line in ax.get_xgridlines():
    line.set_zorder(3.5)
ax.spines['top'].set_visible(False)
ax.spines['bottom'].set_visible(False)
for s in ['left', 'right']:
    ax.spines[s].set_color('#868686')
    ax.spines[s].set_zorder(3.5)
ax.spines['left'].set_linewidth(3.4)
ax.spines['right'].set_linewidth(4.2)
ax.tick_params(axis='x', which='major', length=8, width=3.2, color='#868686', pad=15, labelsize=21)
ax.tick_params(axis='x', which='minor', direction='in', length=6, width=3, color='#868686')
ax.tick_params(axis='y', which='major', length=9, width=2.4, color='#868686', pad=4, labelsize=21)
for t in ax.get_xticklabels() + ax.get_yticklabels():
    t.set_fontweight('bold')

fig.text(2051 / W, 1 - 1587 / H, 'Distance (m)', ha='center', va='center', fontsize=21, fontweight='bold')
fig.text(43 / W, 1 - 62 / H, 'Layers', ha='left', va='center', fontsize=21, fontweight='bold')
for name, py in zip(stratum_names, [418, 827, 1182, 1437]):
    fig.text(43 / W, 1 - py / H, name, ha='left', va='center', fontsize=21, fontweight='bold')

fig.savefig('out.png', dpi=100)
